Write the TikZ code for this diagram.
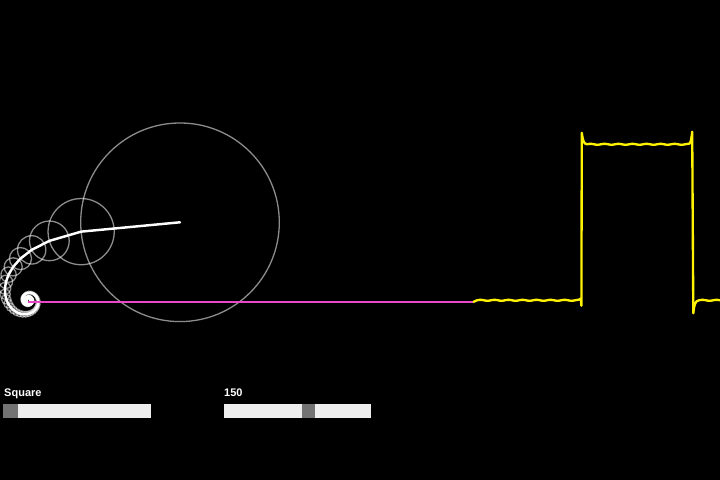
\documentclass[tikz,border=0pt]{standalone}
\usepackage{fontspec}
\setmainfont{Liberation Sans}
\definecolor{pinkline}{RGB}{232,72,200}
\definecolor{track}{RGB}{238,238,238}
\definecolor{thumb}{RGB}{115,115,115}
\tikzset{
  circ/.style={draw=white, draw opacity=0.55, line width=1.1pt},
  arm/.style={draw=white, line width=2.1pt, line cap=round, line join=round},
  wave/.style={draw=yellow, line width=2pt, line join=round},
  trace/.style={draw=pinkline, line width=1.8pt},
  label/.style={text=white, font=\bfseries\fontsize{9.4pt}{11pt}\selectfont, anchor=base west, inner sep=0pt},
  trackbox/.style={fill=track, draw=none},
  thumbbox/.style={fill=thumb, draw=none}
}
\begin{document}
\begin{tikzpicture}[x=0.03cm, y=0.03cm]
\fill[black] (0,0) rectangle (720,480);
\useasboundingbox (0,0) rectangle (720,480);
\def\eps{5.4}
\coordinate (p0) at (180,257.7);
\xdef\px{180}\xdef\py{257.7}
\foreach \k in {1,...,150}{
  \pgfmathsetmacro\n{2*\k-1}
  \pgfmathsetmacro\r{99.3/\n}
  \pgfmathsetmacro\nx{\px - \r*cos(\n*\eps)}
  \pgfmathsetmacro\ny{\py - \r*sin(\n*\eps)}
  \draw[circ] (\px,\py) circle[radius=\r];
  \coordinate (p\k) at (\nx,\ny);
  \xdef\px{\nx}\xdef\py{\ny}
}
\draw[arm] (p0) \foreach \k in {1,...,150}{ -- (p\k)};
\coordinate (ws) at (473,0);
\draw[trace] (p150) -- (p150 -| ws);
% square wave
\draw[wave] (p150 -| ws) -- (477,179.7)
  -- plot[domain=477:577, samples=80] (\x,{179.7+0.45*sin((\x-477)*25.7)})
  .. controls (579,179.8) and (580,180.8) .. (580.8,181.5)
  -- (581.4,174.3) -- (581.8,347.2)
  .. controls (582.8,340) and (583.5,336) .. (587,335.7)
  -- plot[domain=587:688, samples=80] (\x,{335.7+0.45*sin((\x-587)*25.7)})
  .. controls (690,335.7) and (691,337) .. (692.2,348.3)
  -- (693.3,166.7)
  .. controls (694,174) and (695,179.5) .. (699,179.7)
  -- plot[domain=699:722, samples=20] (\x,{179.7+0.45*sin((\x-699)*25.7)});
% sliders
\node[label] (l1) at (4,83) {Square};
\node[label] (l2) at (224,83) {150};
\fill[trackbox] (2.7,62) rectangle (150.7,76);
\fill[thumbbox] (2.7,62) rectangle (18,76);
\fill[trackbox] (224,62) rectangle (370.7,76);
\fill[thumbbox] (301.7,62) rectangle (315.3,76);
\end{tikzpicture}
\end{document}
